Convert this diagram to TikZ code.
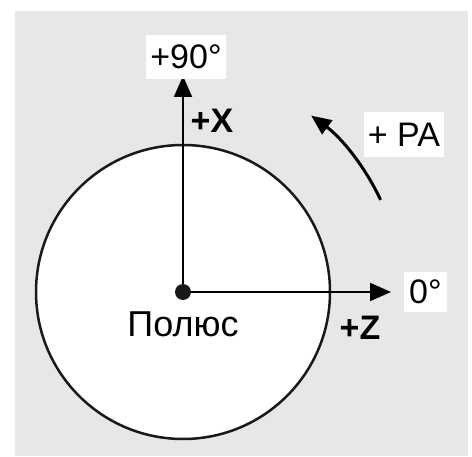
\documentclass[tikz,border=0pt]{standalone}
\usepackage{fontspec}
\setmainfont{Liberation Sans}
\usetikzlibrary{arrows.meta}
\definecolor{bggray}{RGB}{230,231,232}
\tikzset{
  axis/.style={line width=2pt,-{Triangle[length=21pt,width=18pt]}},
  angbox/.style={fill=white,inner sep=0pt,minimum height=44pt,font=\fontsize{34}{34}\selectfont},
  axlabel/.style={font=\fontsize{34}{34}\selectfont\bfseries}
}
\begin{document}
\begin{tikzpicture}[x=1pt,y=1pt]
    \useasboundingbox (0,0) rectangle (472,456);
    % Nền xám
    \fill[bggray] (15,0) rectangle (468,445);
    % Vòng tròn
    \coordinate (O) at (183,164);
    \filldraw[fill=white,draw=black!90,line width=2.5pt] (O) circle (147);
    % Các trục
    \coordinate (top) at (183,380);
    \coordinate (right) at (391,164);
    \draw[axis] (O) -- (top);
    \draw[axis] (O) -- (right);
    \fill[black!90] (O) circle (8);
    % Nhãn góc
    \node[angbox,minimum width=80pt] (deg90) at (186,399) {+90°};
    \node[angbox,minimum width=43pt,minimum height=40pt] (deg0) at (425.5,164) {0°};
    \node[angbox,minimum width=80pt,minimum height=45pt] (pa) at (404,321.5) {+ PA};
    % Nhãn trục
    \node[axlabel] (xlab) at (212,335) {+X};
    \node[axlabel] (zlab) at (360,128) {+Z};
    \node[font=\fontsize{36}{36}\selectfont] (pole) at (183,132) {Полюс};
    % Cung góc PA
    \draw[line width=3pt,-{Triangle[length=20pt,width=17pt]}] ([shift={(25:218)}]O) arc (25:54:218);
\end{tikzpicture}
\end{document}
